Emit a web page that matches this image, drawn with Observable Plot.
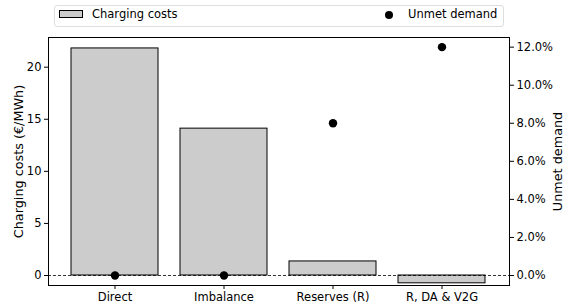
<!DOCTYPE html>
<html>
<head>
<meta charset="utf-8">
<script src="https://cdn.jsdelivr.net/npm/d3@7"></script>
<script src="https://cdn.jsdelivr.net/npm/@observablehq/plot@0.6"></script>
<style>
  body { margin: 0; background: #fff; font-family: "DejaVu Sans", sans-serif; }
  #wrap { position: relative; width: 566px; }
  #legend { position: relative; height: 30px; }
  #legend .box { position: absolute; left: 54px; top: 5px; width: 448px; height: 20px; border: 1px solid #dedede; border-radius: 3px; background: #fff; }
  #legend .patch { position: absolute; left: 4px; top: 4px; width: 22px; height: 6px; background: #cccccc; border: 1px solid #000; }
  #legend .dot { position: absolute; left: 330px; top: 5px; width: 8px; height: 8px; border-radius: 50%; background: #000; }
  #legend .t { position: absolute; top: 1px; font-size: 11.5px; color: #000; white-space: nowrap; }
  svg { overflow: visible; }
</style>
</head>
<body>
<div id="wrap">
  <div id="legend">
    <div class="box">
      <div class="patch"></div>
      <div class="t" style="left:37px">Charging costs</div>
      <div class="dot"></div>
      <div class="t" style="left:353px">Unmet demand</div>
    </div>
  </div>
  <div id="chart"></div>
</div>
<script>
const categories = ["Direct", "Imbalance", "Reserves (R)", "R, DA & V2G"];
const chargingCosts = [21.8, 14.1, 1.35, -0.75];
const unmetDemand = [0, 0, 8, 12];
const rightTicks = [0, 2, 4, 6, 8, 10, 12];

const k = 1.827; // left units per 1% of unmet demand
const yDomain = [-0.96, 22.85];

const rows = categories.map((c, i) => ({cat: c, cost: chargingCosts[i], unmet: unmetDemand[i]}));

const plot = Plot.plot({
  width: 566,
  height: 277,
  marginTop: 7,
  marginBottom: 22,
  marginLeft: 48,
  marginRight: 57,
  style: {fontFamily: "DejaVu Sans, sans-serif", fontSize: "11px", color: "#000", background: "#fff", overflow: "visible"},
  x: {domain: categories, paddingInner: 0.2, paddingOuter: 0.2, label: null},
  y: {domain: yDomain, label: null},
  marks: [
    Plot.barY(rows, {x: "cat", y: "cost", fill: "#cccccc", stroke: "#000", strokeWidth: 1}),
    Plot.ruleY([0], {stroke: "#000", strokeWidth: 0.8, strokeDasharray: "3,2"}),
    Plot.dot(rows, {x: "cat", y: d => d.unmet * k, r: 4.2, fill: "#000"}),
    Plot.frame({stroke: "#000", strokeWidth: 1}),
    Plot.axisX({tickSize: 4, tickPadding: 3, fontSize: 11.5, label: null}),
    Plot.axisY([0, 5, 10, 15, 20], {anchor: "left", tickSize: 4, tickPadding: 3, fontSize: 11.5, label: null}),
    Plot.axisY(rightTicks.map(t => t * k), {anchor: "right", tickSize: 4, tickPadding: 3, fontSize: 11.5, label: null,
      tickFormat: d => (d / k).toFixed(1) + "%"}),
    Plot.text(["Charging costs (€/MWh)"], {frameAnchor: "left", dx: -30, rotate: -90, fontSize: 12.8, textAnchor: "middle"}),
    Plot.text(["Unmet demand"], {frameAnchor: "right", dx: 48, rotate: -90, fontSize: 12.8, textAnchor: "middle"})
  ]
});
document.getElementById("chart").appendChild(plot);
</script>
</body>
</html>
